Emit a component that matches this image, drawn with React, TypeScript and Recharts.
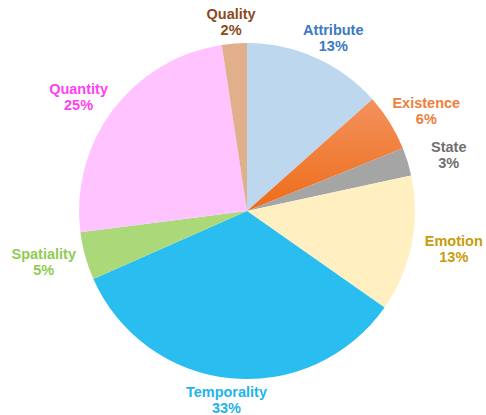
import { PieChart, Pie, Cell } from 'recharts'

const categories = ['Attribute', 'Existence', 'State', 'Emotion', 'Temporality', 'Spatiality', 'Quantity', 'Quality']
const shares = [13.4, 5.5, 2.7, 13.1, 33.6, 4.6, 24.6, 2.4]
const shareLabels = ['13%', '6%', '3%', '13%', '33%', '5%', '25%', '2%']

const fills = ['#bdd7ee', 'url(#existenceFill)', '#a5a5a5', '#ffefc1', '#29bdf0', '#abd97a', '#ffc4ff', '#e0af8c']
const textColors = ['#3b79c3', '#f07e3b', '#6f6f6f', '#c89c08', '#1fb4ea', '#8fcb52', '#ff3ff0', '#8b4a1e']

const data = categories.map((name, i) => ({ name, value: shares[i], label: shareLabels[i] }))

const RAD = Math.PI / 180
const FONT_SIZE = 14.5

// labels sit on an ellipse around the pie (wider than tall, like the original)
function renderLabel(props: any) {
  const { cx, cy, midAngle, outerRadius, index } = props
  const rx = outerRadius + 43
  const ry = outerRadius + 22
  const x = cx + Math.cos(-midAngle * RAD) * rx
  const y = cy + Math.sin(-midAngle * RAD) * ry
  return (
    <text
      x={x}
      y={y - 3}
      fill={textColors[index]}
      textAnchor="middle"
      fontSize={FONT_SIZE}
      fontWeight="bold"
      fontFamily="'Liberation Sans', Arial, sans-serif"
    >
      <tspan x={x} dy={0}>{categories[index]}</tspan>
      <tspan x={x} dy={16}>{shareLabels[index]}</tspan>
    </text>
  )
}

export default function App() {
  return (
    <div style={{ position: 'absolute', left: 0, top: 0, background: '#fff' }}>
      <PieChart width={486} height={415} margin={{ top: 0, right: 0, bottom: 0, left: 0 }}>
        <defs>
          <linearGradient id="existenceFill" x1="0" y1="0" x2="0" y2="1">
            <stop offset="0%" stopColor="#f3925d" />
            <stop offset="100%" stopColor="#ee6c18" />
          </linearGradient>
        </defs>
        <Pie
          data={data}
          dataKey="value"
          nameKey="name"
          cx={247}
          cy={211}
          outerRadius={168}
          startAngle={90}
          endAngle={-270}
          stroke="none"
          label={renderLabel}
          labelLine={false}
          isAnimationActive={false}
        >
          {data.map((entry, index) => (
            <Cell key={entry.name} fill={fills[index]} />
          ))}
        </Pie>
      </PieChart>
    </div>
  )
}
